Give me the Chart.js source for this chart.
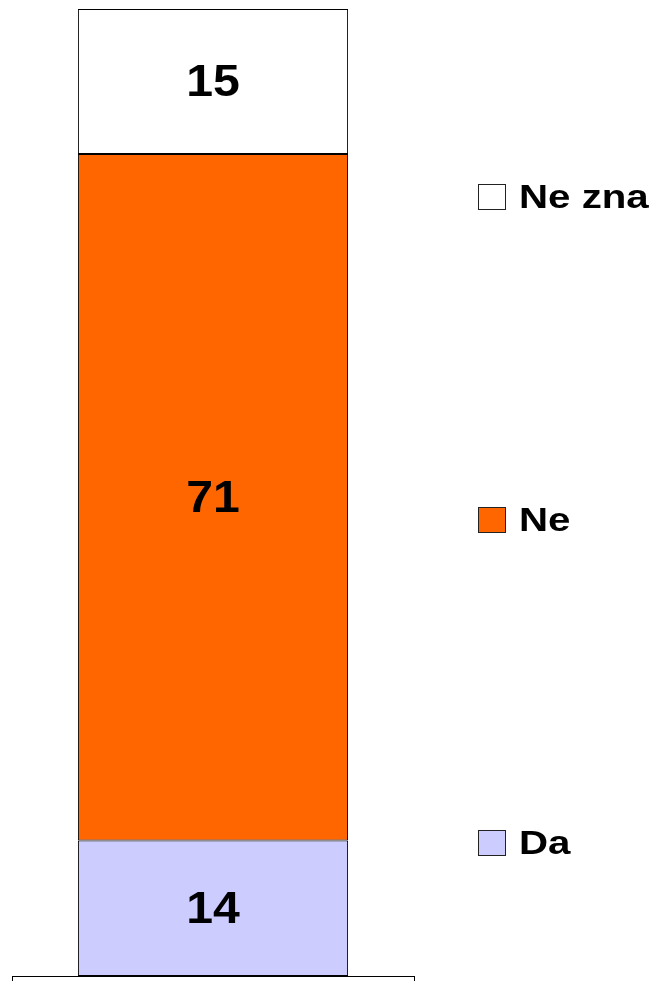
<!DOCTYPE html>
<html>
<head>
<meta charset="utf-8">
<script src="https://cdn.jsdelivr.net/npm/chart.js@4/dist/chart.umd.min.js"></script>
<style>
  body { margin: 0; background: #fff; }
  #wrap { width: 661px; height: 986px; }
</style>
</head>
<body>
<div id="wrap"><canvas id="barChart" width="661" height="986"></canvas></div>
<script>
// data
const categories = [''];
const seriesNames = ['Da', 'Ne', 'Ne zna'];
const daValues = [14];
const neValues = [71];
const neZnaValues = [15];
const seriesColors = ['#ccccff', '#ff6600', '#ffffff'];

const FONT = '"Liberation Sans", Arial, sans-serif';

// value labels in the middle of each segment
const valueLabels = {
    id: 'valueLabels',
    afterDatasetsDraw(chart) {
        const ctx = chart.ctx;
        ctx.save();
        ctx.fillStyle = '#000';
        ctx.font = 'bold 45px ' + FONT;
        ctx.textAlign = 'center';
        ctx.textBaseline = 'middle';
        chart.data.datasets.forEach(function(ds, i) {
            const meta = chart.getDatasetMeta(i);
            meta.data.forEach(function(bar, j) {
                const y = (bar.y + bar.base) / 2;
                ctx.save();
                ctx.translate(bar.x, y + 2);
                ctx.scale(1.07, 1);
                ctx.fillText(String(ds.data[j]), 0, 0);
                ctx.restore();
            });
        });
        ctx.restore();
    }
};

// legend on the right, top item = last series
const sideLegend = {
    id: 'sideLegend',
    afterDraw(chart) {
        const ctx = chart.ctx;
        const items = chart.data.datasets.slice().reverse();
        const centerY = 520;
        const step = 323;
        const top = centerY - step * (items.length - 1) / 2;
        ctx.save();
        items.forEach(function(ds, i) {
            const y = top + i * step;
            ctx.fillStyle = ds.backgroundColor;
            ctx.fillRect(478.5, y - 12.5, 27, 25);
            ctx.strokeStyle = '#222';
            ctx.lineWidth = 1;
            ctx.strokeRect(478.5, y - 12.5, 27, 25);
            ctx.fillStyle = '#000';
            ctx.font = 'bold 33px ' + FONT;
            ctx.textAlign = 'left';
            ctx.textBaseline = 'middle';
            ctx.save();
            ctx.translate(519, y + 2);
            ctx.scale(1.22, 1);
            ctx.fillText(ds.label, 0, 0);
            ctx.restore();
        });
        ctx.restore();
    }
};

const ctx = document.getElementById('barChart').getContext('2d');
new Chart(ctx, {
    type: 'bar',
    data: {
        labels: categories,
        datasets: [
            { label: seriesNames[0], data: daValues, backgroundColor: seriesColors[0] },
            { label: seriesNames[1], data: neValues, backgroundColor: seriesColors[1] },
            { label: seriesNames[2], data: neZnaValues, backgroundColor: seriesColors[2] }
        ].map(function(d) {
            d.borderColor = '#000';
            d.borderWidth = 1;
            d.borderSkipped = false;
            d.barPercentage = 0.672;
            d.categoryPercentage = 1;
            return d;
        })
    },
    options: {
        responsive: false,
        animation: false,
        layout: { padding: { left: 12, right: 247, top: 9, bottom: 5 } },
        plugins: {
            legend: { display: false },
            tooltip: { enabled: false }
        },
        scales: {
            x: {
                stacked: true,
                grid: { drawOnChartArea: false, tickLength: 5, color: '#000' },
                border: { color: '#000', width: 1 },
                ticks: { display: false }
            },
            y: {
                stacked: true,
                display: false,
                min: 0,
                max: 100
            }
        }
    },
    plugins: [valueLabels, sideLegend]
});
</script>
</body>
</html>
